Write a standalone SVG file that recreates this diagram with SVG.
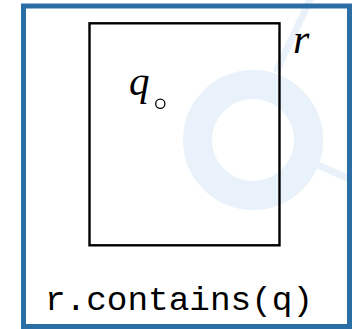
<svg xmlns="http://www.w3.org/2000/svg" width="352" height="329" viewBox="0 0 352 329">
  <style>
    .wm { fill: none; stroke: #e9f2fa; }
    .frame { fill: none; stroke: #2a6ea5; stroke-width: 5; }
    .box { fill: none; stroke: #000; stroke-width: 2.4; }
    .math { font-family: "Liberation Serif", "Times New Roman", serif; font-style: italic; fill: #000; }
    .code { font-family: "Liberation Mono", "Courier New", monospace; fill: #000; }
  </style>
  <rect width="352" height="329" fill="#fff"/>
  <g id="watermark">
    <circle class="wm" cx="253" cy="140" r="55.5" stroke-width="29"/>
    <line class="wm" x1="311" y1="-2" x2="276" y2="72" stroke-width="7"/>
    <line class="wm" x1="318" y1="165" x2="354" y2="181" stroke-width="7"/>
  </g>
  <g id="frame">
    <rect class="frame" x="23.5" y="6" width="326" height="320.5"/>
  </g>
  <g id="r">
    <rect class="box" x="89.5" y="23.3" width="190" height="222"/>
    <text class="math" x="293" y="53" font-size="42">r</text>
  </g>
  <g id="q">
    <circle cx="160.3" cy="103.7" r="4.6" fill="#fff" stroke="#000" stroke-width="1.3"/>
    <text class="math" x="129" y="95" font-size="41">q</text>
  </g>
  <g id="label">
    <text class="code" x="45" y="310" font-size="34" textLength="268" lengthAdjust="spacingAndGlyphs">r.contains(q)</text>
  </g>
</svg>
